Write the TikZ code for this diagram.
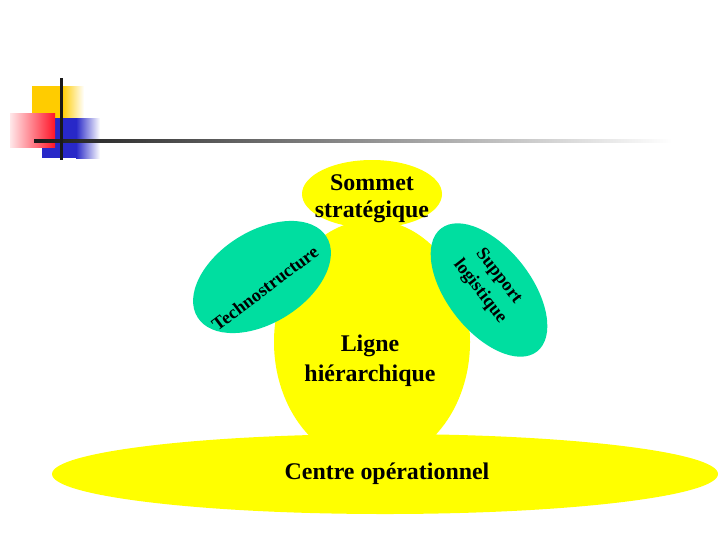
\documentclass[tikz,border=0pt]{standalone}
\usepackage{fontspec}
\setmainfont{Liberation Serif}
\usepackage{tikz}
\usetikzlibrary{shapes.geometric}

\definecolor{jaune}{RGB}{255,255,0}
\definecolor{turquoise}{RGB}{0,222,160}
\definecolor{rougeb}{RGB}{255,20,40}
\definecolor{bleub}{RGB}{40,40,200}
\definecolor{orb}{RGB}{255,204,0}

\begin{document}
\begin{tikzpicture}[
  x=0.025cm, y=-0.025cm,
  blob/.style={ellipse, inner sep=0pt},
  part/.style={blob, fill=jaune},
  staff/.style={blob, fill=turquoise},
  txt/.style={align=center, inner sep=0pt,
              font=\bfseries\fontsize{17}{21}\selectfont},
  stafftxt/.style={align=center, inner sep=0pt,
              font=\bfseries\fontsize{13}{17}\selectfont},
]
\useasboundingbox (0,0) rectangle (720,540);

% title decoration
\fill[orb] (32,86) rectangle (62,132);
\shade[left color=orb, right color=white] (62,86) rectangle (84,132);
\fill[bleub] (42,118) rectangle (76,158);
\shade[left color=bleub, right color=white] (76,118) rectangle (100,158);
\shade[left color=rougeb!10, right color=rougeb] (10,113) rectangle (55,147);
\shade[left color=black!90, middle color=black!60, right color=white]
  (34,139.5) rectangle (672,142.5);
\fill[black!90] (59.5,78) rectangle (62.5,160);

% the five parts
\node[part, minimum width=196*0.025cm, minimum height=244*0.025cm]
  (ligne) at (372,342) {};
\node[part, minimum width=140*0.025cm, minimum height=68*0.025cm]
  (sommet) at (372,194) {};
\node[staff, minimum width=152*0.025cm, minimum height=92*0.025cm, rotate=32]
  (techno) at (262,277) {};
\node[staff, minimum width=156*0.025cm, minimum height=84*0.025cm, rotate=-52]
  (support) at (489,290) {};
\node[part, minimum width=666*0.025cm, minimum height=80*0.025cm]
  (centre) at (385,474) {};

% labels
\node[txt] (sommettxt) at (372,199) {Sommet\\[-2pt]stratégique};
\node[txt] (lignetxt) at (370,361) {Ligne\\hiérarchique};
\node[txt] (centretxt) at (387,474) {Centre opérationnel};
\node[stafftxt, rotate=37] (technotxt) at (265,288) {Technostructure};
\node[stafftxt, rotate=-52] (supporttxt) at (489,284) {Support\\logistique};
\end{tikzpicture}
\end{document}
